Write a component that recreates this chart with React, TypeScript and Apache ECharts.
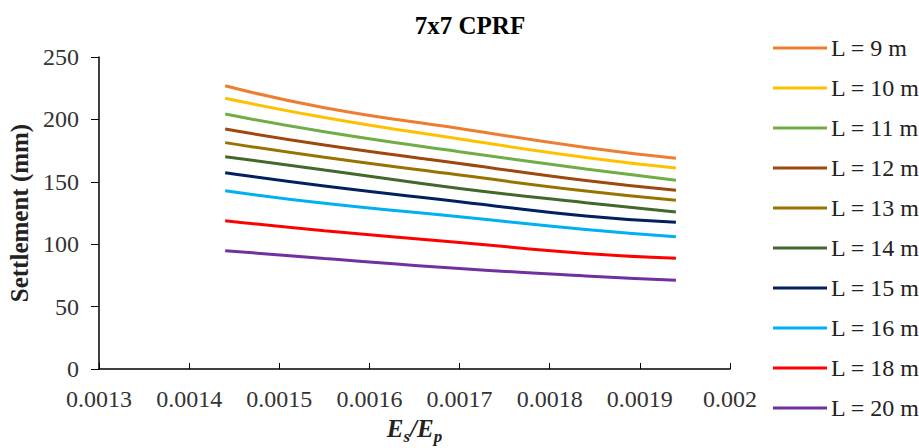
import React, { useEffect, useRef } from "react";
import * as echarts from "echarts";

const xValues = [0.00144, 0.00155, 0.0017, 0.00184, 0.00194];

const seriesNames = [
  "L = 9 m",
  "L = 10 m",
  "L = 11 m",
  "L = 12 m",
  "L = 13 m",
  "L = 14 m",
  "L = 15 m",
  "L = 16 m",
  "L = 18 m",
  "L = 20 m",
];

const L9 = [227, 209.4, 192.7, 177.5, 168.8];
const L10 = [217, 201.6, 184.3, 169.5, 161.1];
const L11 = [204.3, 190.1, 174.1, 160.3, 151.2];
const L12 = [192.3, 179.5, 164.7, 151.0, 143.2];
const L13 = [181.4, 169.6, 155.4, 142.6, 135.2];
const L14 = [170.1, 159.5, 144.7, 133.3, 125.8];
const L15 = [157.3, 146.6, 134.1, 122.6, 117.5];
const L16 = [142.9, 132.8, 122.0, 111.8, 106.0];
const L18 = [118.8, 110.8, 101.4, 92.6, 88.7];
const L20 = [94.8, 88.6, 80.6, 74.6, 71.1];

const seriesValues = [L9, L10, L11, L12, L13, L14, L15, L16, L18, L20];

const colors = [
  "#ED7D31",
  "#FFC000",
  "#70AD47",
  "#9E480E",
  "#997300",
  "#43682B",
  "#002060",
  "#00B0F0",
  "#FF0000",
  "#7030A0",
];

const FONT = "'Liberation Serif', 'Times New Roman', serif";

export default function App() {
  const ref = useRef<HTMLDivElement>(null);

  useEffect(() => {
    if (!ref.current) return;
    const chart = echarts.init(ref.current, undefined, { renderer: "svg" });
    const series = seriesNames.map((name, i) => ({
      name,
      type: "line",
      data: xValues.map((x, j) => [x, seriesValues[i][j]]),
      smooth: true,
      showSymbol: false,
      symbol: "none",
      lineStyle: { color: colors[i], width: 3 },
      itemStyle: { color: colors[i] },
    }));
    chart.setOption({
      animation: false,
      backgroundColor: "#ffffff",
      title: {
        text: "7x7 CPRF",
        left: 465,
        textAlign: "center",
        top: 8,
        textStyle: {
          fontFamily: FONT,
          fontWeight: "bold",
          fontSize: 25,
          color: "#000",
        },
      },
      legend: {
        orient: "vertical",
        left: 768,
        top: 31,
        itemWidth: 54,
        itemHeight: 24,
        itemGap: 16,
        data: seriesNames.map((n, i) => ({
          name: n,
          icon: "path://M0,0 L54,0 L54,3 L0,3 Z",
          itemStyle: { color: colors[i] },
        })),
        textStyle: {
          fontFamily: FONT,
          fontSize: 24,
          lineHeight: 24,
          color: "#222",
          padding: [0, 0, 0, -1],
        },
      },
      grid: {
        left: 99,
        right: 189,
        top: 57,
        bottom: 79,
        containLabel: false,
        outerBoundsMode: "none",
      },
      xAxis: {
        type: "value",
        min: 0.0013,
        max: 0.002,
        interval: 0.0001,
        name: "{e|E}{s|s}{e|/E}{s|p}",
        nameLocation: "middle",
        nameGap: 44,
        nameTextStyle: {
          rich: {
            e: {
              fontFamily: FONT,
              fontStyle: "italic",
              fontWeight: "bold",
              fontSize: 25,
              color: "#222",
              lineHeight: 26,
              verticalAlign: "bottom",
            },
            s: {
              fontFamily: FONT,
              fontStyle: "italic",
              fontWeight: "bold",
              fontSize: 17,
              color: "#222",
              lineHeight: 26,
              verticalAlign: "bottom",
              padding: [0, 0, -4, 0],
            },
          },
        },
        axisLine: { lineStyle: { color: "#000", width: 1.5 } },
        axisTick: { inside: true, length: 6, lineStyle: { color: "#000" } },
        splitLine: { show: false },
        axisLabel: {
          margin: 18,
          fontFamily: FONT,
          fontSize: 24,
          color: "#333",
          formatter: (v: number) => String(Number(v.toFixed(4))),
        },
      },
      yAxis: {
        type: "value",
        min: 0,
        max: 250,
        interval: 50,
        name: "Settlement (mm)",
        nameLocation: "middle",
        nameGap: 63,
        nameTextStyle: {
          fontFamily: FONT,
          fontWeight: "bold",
          fontSize: 25,
          color: "#222",
        },
        axisLine: { show: true, lineStyle: { color: "#000", width: 1.5 } },
        axisTick: { show: true, inside: false, length: 8, lineStyle: { color: "#000" } },
        splitLine: { show: false },
        axisLabel: {
          margin: 20,
          fontFamily: FONT,
          fontSize: 24,
          color: "#333",
        },
      },
      series,
    });
    return () => chart.dispose();
  }, []);

  return (
    <div
      ref={ref}
      style={{ position: "fixed", left: 0, top: 0, width: 919, height: 448 }}
    />
  );
}
